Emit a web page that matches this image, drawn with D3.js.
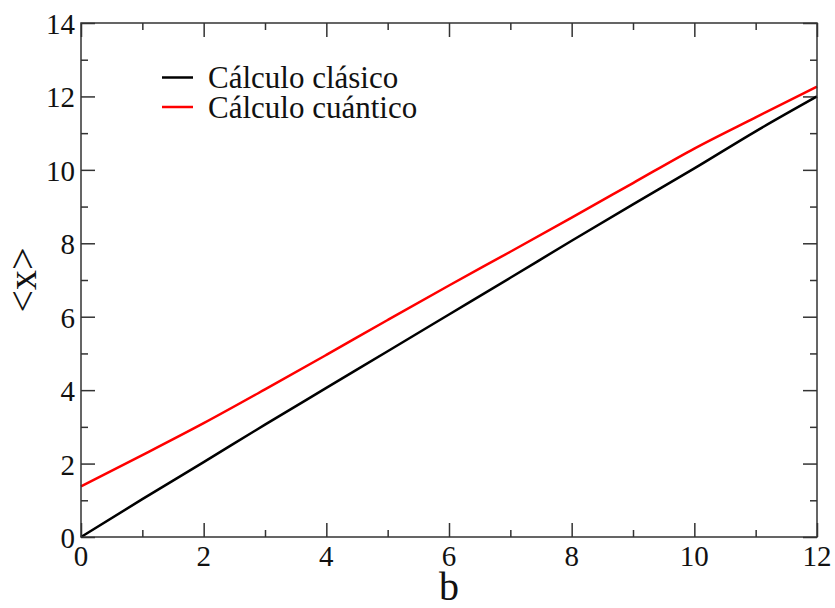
<!DOCTYPE html>
<html>
<head>
<meta charset="utf-8">
<script src="https://cdn.jsdelivr.net/npm/d3@7"></script>
<style>
  html, body { margin: 0; padding: 0; background: #fff; }
  svg { display: block; }
</style>
</head>
<body>
<svg id="chart" width="835" height="608" font-family="'Liberation Serif', 'Times New Roman', Times, 'DejaVu Serif', serif"></svg>
<script>
// Impact parameter b
const bValues = [0, 1, 2, 3, 4, 5, 6, 7, 8, 9, 10, 11, 12];
// <x> from the classical calculation
const classical = [0, 1.03, 2.04, 3.06, 4.06, 5.06, 6.06, 7.06, 8.07, 9.06, 10.04, 11.05, 12.0];
// <x> from the quantum calculation
const quantum = [1.38, 2.23, 3.1, 4.02, 4.96, 5.91, 6.85, 7.77, 8.7, 9.64, 10.58, 11.43, 12.27];

const xTicks = [0, 2, 4, 6, 8, 10, 12];
const yTicks = [0, 2, 4, 6, 8, 10, 12, 14];
const xMinor = [1, 3, 5, 7, 9, 11];
const yMinor = [1, 3, 5, 7, 9, 11, 13];

const seriesNames = ["Cálculo clásico", "Cálculo cuántico"];
const seriesColors = ["#000000", "#ff0000"];

const margin = { left: 81, top: 23, right: 835 - 817, bottom: 608 - 537 };
const W = 835, H = 608;
const svg = d3.select("#chart");
const serif = "'Liberation Serif', 'Times New Roman', Times, 'DejaVu Serif', serif";

const x = d3.scaleLinear().domain([0, 12]).range([margin.left, W - margin.right]);
const y = d3.scaleLinear().domain([0, 14]).range([H - margin.bottom, margin.top]);

const frameColor = "#333";
const major = 14, minor = 7;

// Ticks on all four sides, pointing inward
function tickAxis(axis) {
  return g => {
    g.call(axis);
    g.select(".domain").remove();
    g.selectAll("line").attr("stroke", frameColor).attr("stroke-width", 1.5);
  };
}

// bottom
svg.append("g").attr("transform", `translate(0,${y(0)})`)
  .call(tickAxis(d3.axisTop(x).tickValues(xTicks).tickSize(major).tickFormat("")));
svg.append("g").attr("transform", `translate(0,${y(0)})`)
  .call(tickAxis(d3.axisTop(x).tickValues(xMinor).tickSize(minor).tickFormat("")));
// top
svg.append("g").attr("transform", `translate(0,${y(14)})`)
  .call(tickAxis(d3.axisBottom(x).tickValues(xTicks).tickSize(major).tickFormat("")));
svg.append("g").attr("transform", `translate(0,${y(14)})`)
  .call(tickAxis(d3.axisBottom(x).tickValues(xMinor).tickSize(minor).tickFormat("")));
// left
svg.append("g").attr("transform", `translate(${x(0)},0)`)
  .call(tickAxis(d3.axisRight(y).tickValues(yTicks).tickSize(major).tickFormat("")));
svg.append("g").attr("transform", `translate(${x(0)},0)`)
  .call(tickAxis(d3.axisRight(y).tickValues(yMinor).tickSize(minor).tickFormat("")));
// right
svg.append("g").attr("transform", `translate(${x(12)},0)`)
  .call(tickAxis(d3.axisLeft(y).tickValues(yTicks).tickSize(major).tickFormat("")));
svg.append("g").attr("transform", `translate(${x(12)},0)`)
  .call(tickAxis(d3.axisLeft(y).tickValues(yMinor).tickSize(minor).tickFormat("")));

// Tick labels
svg.append("g").selectAll("text").data(xTicks).join("text")
  .attr("x", d => x(d)).attr("y", y(0) + 29)
  .attr("text-anchor", "middle")
  .attr("font-family", serif).attr("fill", "#111")
  .style("font-size", "29px")
  .text(d => d);
svg.append("g").selectAll("text").data(yTicks).join("text")
  .attr("x", x(0) - 6).attr("y", d => y(d) + 11)
  .attr("text-anchor", "end")
  .attr("font-family", serif).attr("fill", "#111")
  .style("font-size", "29px")
  .text(d => d);

// Axis titles
svg.append("text")
  .attr("x", (x(0) + x(12)) / 2).attr("y", 600)
  .attr("text-anchor", "middle")
  .attr("font-family", serif).attr("fill", "#111")
  .style("font-size", "40px")
  .text("b");
svg.append("text")
  .attr("transform", `translate(36,${(y(0) + y(14)) / 2}) rotate(-90)`)
  .attr("text-anchor", "middle")
  .attr("font-family", serif).attr("fill", "#111")
  .style("font-size", "40px")
  .text("<x>");

// Curves
const line = d3.line().x((d, i) => x(bValues[i])).y(d => y(d)).curve(d3.curveMonotoneX);
[classical, quantum].forEach((s, k) => {
  svg.append("path")
    .datum(s)
    .attr("d", line)
    .attr("fill", "none")
    .attr("stroke", seriesColors[k])
    .attr("stroke-width", 2.5);
});

// Frame
svg.append("rect")
  .attr("x", x(0)).attr("y", y(14))
  .attr("width", x(12) - x(0)).attr("height", y(0) - y(14))
  .attr("fill", "none").attr("stroke", frameColor).attr("stroke-width", 1.5);

// Legend
const legend = svg.append("g");
seriesNames.forEach((name, k) => {
  const ly = 77.5 + k * 29.5;
  legend.append("line")
    .attr("x1", 162).attr("x2", 193).attr("y1", ly).attr("y2", ly)
    .attr("stroke", seriesColors[k]).attr("stroke-width", 2.5);
  legend.append("text")
    .attr("x", 208).attr("y", ly + 10.5)
    .attr("font-family", serif).attr("fill", "#111")
    .style("font-size", "31px")
    .text(name);
});
</script>
</body>
</html>
